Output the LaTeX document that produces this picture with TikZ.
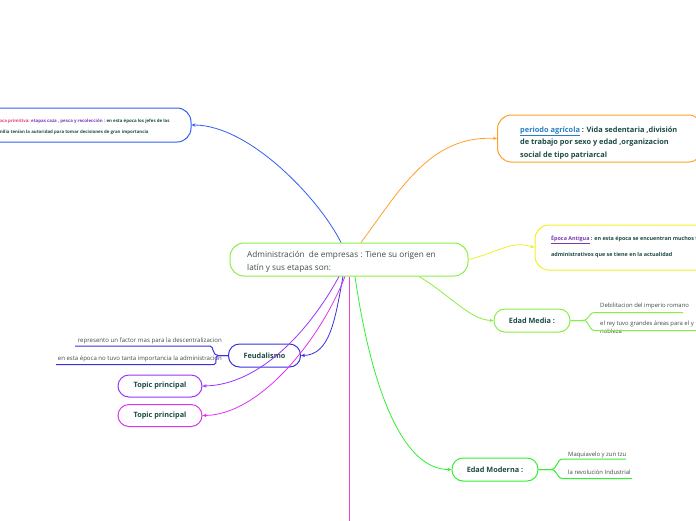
\documentclass[tikz,border=0pt]{standalone}
\usepackage{fontspec}
\setmainfont{Open Sans}
\usetikzlibrary{arrows.meta,positioning}

\definecolor{txtdark}{HTML}{1D4A44}
\definecolor{txtgray}{HTML}{3E4C4A}
\definecolor{cblue}{HTML}{2F5FF0}
\definecolor{corange}{HTML}{FFA028}
\definecolor{cyellow}{HTML}{F0F028}
\definecolor{clime}{HTML}{88EE44}
\definecolor{cgreen}{HTML}{33EE33}
\definecolor{cfeud}{HTML}{3A2FDD}
\definecolor{cpurple}{HTML}{9933FF}
\definecolor{cmagenta}{HTML}{DD33EE}
\definecolor{cpink}{HTML}{EE44CC}
\definecolor{clink}{HTML}{2A7FC0}
\definecolor{cprim}{HTML}{E0407A}
\definecolor{cpurp}{HTML}{7A3AB0}

\begin{document}
\begin{tikzpicture}[
  x=1pt,y=-1pt,
  >={Stealth[length=4pt,width=3.4pt]},
  font=\fontsize{7.5}{11}\selectfont,
  topicbox/.style={draw,rounded corners=11pt,line width=1pt,minimum height=23pt,
    font=\fontsize{7.3}{9}\selectfont\bfseries,text=txtdark},
  bigbox/.style={draw,rounded corners=14pt,line width=1pt},
  subtext/.style={font=\fontsize{5.9}{8}\selectfont,text=txtgray,anchor=base west,inner sep=0pt},
  tinytext/.style={font=\fontsize{4.4}{11}\selectfont\bfseries,text=txtdark,align=left,inner sep=0pt},
  link/.style={->,line width=0.8pt}
]
\useasboundingbox (0,0) rectangle (696,520);
\clip (0,0) rectangle (696,520);

% ---- central topic ----
\node[bigbox,draw=clime,minimum width=238pt,minimum height=33pt] (root) at (349,259.5) {};
\node[anchor=west,align=left,text=txtgray,font=\fontsize{8.2}{13}\selectfont,inner sep=0pt]
  (roottxt) at (247,262) {Administración\ \ de empresas : Tiene su origen en\\latín y sus etapas son:};

% ---- upper branches ----
\node[bigbox,draw=cblue,minimum width=270pt,minimum height=34pt] (primit) at (56,125) {};
\node[tinytext,anchor=west] (primtxt) at (-6,126.5)
  {\textcolor{cprim}{Época primitiva:} \textcolor{cpurp}{etapas caza , pesca y recolección :} en esta época los jefes de las\\
   familia tenían la autoridad para tomar decisiones de gran importancia};

\node[bigbox,draw=corange,minimum width=205pt,minimum height=47pt] (agric) at (600,138.5) {};
\node[anchor=west,align=left,text=txtdark,font=\fontsize{7.4}{12.8}\selectfont\bfseries,inner sep=0pt]
  (agrictxt) at (520,143)
  {\textcolor{clink}{\underline{periodo agrícola}} : Vida sedentaria ,división\\
   de trabajo por sexo y edad ,organizacion\\
   social de tipo patriarcal};

\node[bigbox,draw=cyellow,minimum width=180pt,minimum height=45pt] (antig) at (625,247.5) {};
\node[tinytext,anchor=west,font=\fontsize{5.4}{15.5}\selectfont\bfseries] (antigtxt) at (551,246.5)
  {\textcolor{cpurp}{\underline{Época Antigua}} : en esta época se encuentran muchos funciones\\
   administrativos que se tiene en la actualidad};

\draw[link,cblue] (root.north) ++(-8,0) coordinate (r1)
  .. controls (320,200) and (250,125) .. (primit.east);
\draw[link,corange] (root.north) ++(12,0) coordinate (r2)
  .. controls (400,190) and (430,135) .. (agric.west);
\draw[link,cyellow] (root.east) .. controls (500,252) and (510,240) .. (antig.west);

% ---- Edad Media ----
\node[topicbox,draw=clime,minimum width=76pt] (media) at (532,320.5) {Edad Media :};
\draw[link,clime] (root.south) ++(70,0) coordinate (r3)
  .. controls (450,295) and (470,320) .. (media.west);
\node[subtext] (med1) at (600,307) {Debilitacion del imperio romano};
\node[subtext,align=left,anchor=north west] (med2) at (600,321)
  {el rey tuvo grandes áreas para el y\\nobleza};
\coordinate (med1a) at (595,312.5);
\coordinate (med2a) at (595,330.5);
\draw[clime,line width=1pt] (media.east) -- ++(12,0) .. controls (590,320) and (588,312.5) .. (med1a) -- (683,312.5);
\draw[clime,line width=1pt] (media.east) -- ++(12,0) .. controls (590,320) and (588,330.5) .. (med2a) -- (696,330.5);

% ---- Edad Moderna ----
\node[topicbox,draw=cgreen,minimum width=86pt] (moder) at (495,469.5) {Edad Moderna :};
\draw[link,cgreen] (root.south) ++(6,0) coordinate (r4)
  .. controls (370,380) and (400,470) .. (moder.west);
\node[subtext] (mod1) at (568,456) {Maquiavelo y zun tzu};
\node[subtext] (mod2) at (568,474) {la revolución Industrial};
\coordinate (mod1a) at (563,459);
\coordinate (mod2a) at (563,478.5);
\draw[cgreen,line width=1pt] (moder.east) -- ++(12,0) .. controls (558,469.5) and (556,459) .. (mod1a) -- (626,459);
\draw[cgreen,line width=1pt] (moder.east) -- ++(12,0) .. controls (558,469.5) and (556,478.5) .. (mod2a) -- (632,478.5);

% ---- Feudalismo ----
\node[topicbox,draw=cfeud,minimum width=72pt] (feud) at (264.5,355.5) {Feudalismo};
\draw[link,cfeud] (root.south) ++(-6,0) coordinate (r5)
  .. controls (335,320) and (330,355) .. (feud.east);
\node[subtext,anchor=base east,font=\fontsize{6.1}{8}\selectfont] (feud1) at (222,342) {represento un factor mas para la descentralizacion};
\node[subtext,anchor=base east,font=\fontsize{6.05}{8}\selectfont] (feud2) at (222,360.5) {en esta época no tuvo tanta importancia la administracion};
\coordinate (feud1a) at (210,346);
\coordinate (feud2a) at (214,364.5);
\draw[cfeud,line width=1pt] (feud.west) -- ++(-10,0) .. controls (212,355.5) and (214,346) .. (feud1a) -- (75,346);
\draw[cfeud,line width=1pt] (feud.west) -- ++(-10,0) .. controls (214,355.5) and (218,364.5) .. (feud2a) -- (56,364.5);

% ---- Topic principal ----
\node[topicbox,draw=cpurple,minimum width=84pt,minimum height=22pt] (topic1) at (160,386) {Topic principal};
\node[topicbox,draw=cmagenta,minimum width=84pt,minimum height=22pt] (topic2) at (160,415.5) {Topic principal};
\draw[link,cpurple] (root.south) ++(-10,0) coordinate (r6)
  .. controls (310,330) and (260,385) .. (topic1.east);
\draw[link,cmagenta] (root.south) ++(-4,0) coordinate (r7)
  .. controls (320,340) and (260,415) .. (topic2.east);

% ---- lower branch (off page) ----
\coordinate (lowend) at (349,525);
\draw[cpink,line width=1pt] (root.south) -- (lowend);

\end{tikzpicture}
\end{document}
